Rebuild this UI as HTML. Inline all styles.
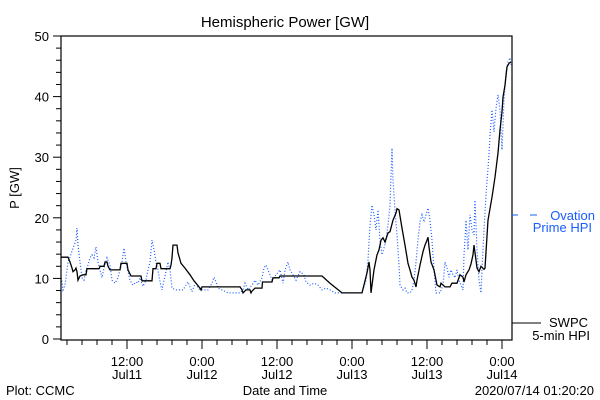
<!DOCTYPE html>
<html><head><meta charset="utf-8"><style>
body{margin:0;background:#fff;}
svg{display:block;font-family:"Liberation Sans","DejaVu Sans",sans-serif;}
</style></head><body>
<svg id="chart" width="600" height="400" viewBox="0 0 600 400" xmlns="http://www.w3.org/2000/svg">
<text x="285" y="27" font-size="15" text-anchor="middle">Hemispheric Power [GW]</text>
<text x="19" y="188" font-size="13" text-anchor="middle" transform="rotate(-90 19 188)">P [GW]</text>
<text x="285" y="395" font-size="13" text-anchor="middle">Date and Time</text>
<text x="6" y="395" font-size="13">Plot: CCMC</text>
<text x="594" y="395" font-size="13" text-anchor="end">2020/07/14 01:20:20</text>
<g id="axes"></g>
<g id="series"></g>
<rect x="61" y="36" width="451" height="304" fill="none" stroke="#000" stroke-width="1.2"/>
<g>
<line x1="512" y1="215" x2="518" y2="215" stroke="#1a5cff"/>
<line x1="530" y1="215" x2="537" y2="215" stroke="#1a5cff"/>
<text x="595" y="220" font-size="13" fill="#1a5cff" text-anchor="end">Ovation</text>
<text x="592" y="232" font-size="13" fill="#1a5cff" text-anchor="end">Prime HPI</text>
<line x1="512" y1="323" x2="541" y2="323" stroke="#000"/>
<text x="588" y="327" font-size="13" text-anchor="end">SWPC</text>
<text x="590" y="340" font-size="13" text-anchor="end">5-min HPI</text>
</g>
</svg>
<script>
const yTicks=[0,10,20,30,40,50];
const xTickHours=[12,24,36,48,60,72];
const xTickTop=["12:00","0:00","12:00","0:00","12:00","0:00"];
const xTickBottom=["Jul11","Jul12","Jul12","Jul13","Jul13","Jul14"];
const swpcHours=[1.44,2.56,2.88,3.2,3.36,3.68,3.84,4.0,4.16,4.48,4.96,5.44,5.6,7.52,7.68,8.32,8.48,8.8,8.96,9.28,10.88,11.04,12.0,12.16,12.64,14.24,14.4,16.0,16.16,16.64,16.8,17.28,17.44,18.88,19.04,19.2,19.36,20.0,20.16,20.64,21.28,22.08,22.72,23.68,23.84,24.0,30.08,30.4,30.56,31.04,31.68,31.84,32.0,32.48,33.6,33.68,35.2,35.36,36.32,36.48,43.2,44.48,46.4,49.6,50.4,50.72,50.88,51.04,51.52,52.0,52.32,52.64,52.96,53.28,53.76,54.08,54.56,55.04,55.2,55.52,56.0,56.48,56.96,57.28,57.6,57.92,58.24,58.4,58.88,59.36,59.68,60.0,60.16,60.32,60.64,61.12,61.6,62.08,62.24,62.88,63.68,64.0,64.8,65.28,65.76,65.92,66.24,66.72,67.04,67.36,67.52,67.84,68.0,68.32,68.64,69.12,69.28,69.76,70.4,70.88,71.36,71.68,72.0,72.16,72.48,72.8,73.12,73.44];
const swpcValues=[13.5,13.5,12.7,11.7,11.1,11.4,11.7,11.1,9.7,10.4,10.6,10.6,11.6,11.6,12.0,12.0,12.7,12.7,12.0,11.4,11.4,12.5,12.5,11.4,10.4,10.4,9.6,9.6,11.6,11.6,12.5,12.5,11.6,11.6,12.2,13.4,15.5,15.5,14.2,12.5,11.7,10.6,9.6,8.4,8.1,8.6,8.6,8.1,7.6,8.1,8.1,7.6,7.9,8.4,8.4,9.4,9.4,10.1,10.1,10.4,10.4,9.2,7.6,7.6,10.9,12.7,11.4,7.6,11.4,13.9,14.7,16.3,16.7,16.0,17.5,17.7,19.6,20.8,21.5,21.3,18.3,15.5,12.5,11.4,10.2,9.7,8.6,9.7,12.2,14.4,15.5,16.3,16.8,15.2,12.7,11.4,8.9,8.6,9.2,8.6,8.6,9.2,9.2,10.6,10.2,9.4,10.6,11.4,12.4,13.9,15.5,13.0,11.7,11.1,12.0,11.5,11.7,19.6,23.4,26.7,30.7,34.5,37.5,39.9,41.9,44.9,45.5,45.7];
const ovationHours=[1.44,1.76,2.08,2.4,2.56,2.88,3.36,3.84,4.0,4.16,4.48,4.8,5.12,5.44,5.76,6.08,6.4,6.72,7.04,7.36,7.68,8.0,8.32,8.8,9.28,9.6,10.08,10.56,10.88,11.2,11.52,11.84,12.16,12.48,12.96,13.44,13.76,14.08,14.56,15.04,15.36,15.68,16.0,16.32,16.64,16.96,17.28,17.6,17.92,18.24,18.56,18.88,19.2,19.84,20.96,21.44,21.76,22.08,22.4,22.72,23.04,23.36,23.68,24.96,25.6,25.92,26.24,26.56,27.2,28.16,30.08,30.56,30.88,31.36,32.0,32.48,32.96,33.6,33.92,34.24,34.56,34.88,35.2,35.84,36.48,36.96,37.28,37.76,38.08,38.56,39.04,39.68,40.32,40.64,41.28,41.92,42.56,43.2,43.84,44.48,45.28,49.6,50.24,50.56,50.88,51.2,51.52,51.84,52.16,52.48,52.8,53.12,53.44,53.76,54.08,54.4,54.56,54.88,55.2,55.52,55.68,56.16,56.48,56.8,57.28,57.6,57.92,58.24,58.56,58.88,59.2,59.52,59.84,60.16,60.48,60.8,61.12,61.44,62.08,62.56,62.88,63.2,63.52,63.84,64.16,64.48,64.8,65.12,65.44,65.76,65.92,66.08,66.24,66.56,66.88,67.2,67.52,67.68,68.0,68.32,68.64,68.8,69.12,69.44,69.76,69.92,70.08,70.4,70.72,71.04,71.36,71.68,72.0,72.32,72.64,72.96,73.28,73.44];
const ovationValues=[10.6,8.1,8.9,11.4,12.7,13.5,15.0,16.3,18.3,15.5,12.7,10.1,9.7,11.4,12.2,13.4,13.9,13.4,15.2,12.7,11.4,10.1,11.7,13.4,12.2,9.7,9.2,10.1,11.4,12.7,15.0,12.7,11.1,9.7,8.9,9.4,9.2,10.1,8.7,9.7,11.4,12.7,16.3,14.7,12.7,11.4,9.4,8.1,9.7,11.1,12.7,11.4,8.4,8.1,8.1,8.9,9.4,8.6,7.8,8.7,9.4,8.4,8.1,8.1,9.2,10.2,9.4,8.4,8.1,7.6,7.6,8.1,9.2,8.1,8.9,9.7,8.9,10.1,11.7,12.2,11.4,10.6,9.7,10.6,11.4,9.2,11.4,12.7,11.4,10.6,9.7,11.1,10.6,9.4,8.9,9.2,8.9,8.1,8.4,8.1,7.6,7.6,9.7,13.0,18.8,22.1,20.5,18.0,21.3,16.3,13.9,15.0,16.3,18.8,22.1,31.5,26.2,21.3,17.2,12.2,8.9,8.1,8.4,7.6,7.6,8.1,9.7,12.7,16.3,19.3,20.5,19.3,20.5,21.6,19.6,16.3,11.4,7.6,7.6,8.9,12.7,11.7,10.2,11.4,10.6,10.1,11.4,9.7,8.9,8.1,13.9,16.3,19.6,14.7,20.5,18.0,17.2,22.9,14.7,9.7,7.6,11.4,18.0,23.8,28.2,30.4,33.7,37.8,34.2,38.1,40.3,37.8,31.2,39.4,44.1,45.7,46.4,45.2];

const NS='http://www.w3.org/2000/svg';
const X0=61,X1=512,Y0=340,Y1=36;
function xScale(h){return 52+h*6.25;}
function yScale(v){return 339-v*(303/50);}
function mk(tag,attrs,parent){const e=document.createElementNS(NS,tag);for(const k in attrs)e.setAttribute(k,attrs[k]);parent.appendChild(e);return e;}
const axes=document.getElementById('axes');
for(let v=0;v<=50;v+=2){
  const y=yScale(v);const major=v%10===0;
  const t=mk('line',{x1:X0-(major?8:5),x2:X0,y1:y,y2:y,stroke:'#000'},axes);
  
  
}
yTicks.forEach(v=>{
  const t=mk('text',{x:X0-12,y:yScale(v)+5,'font-size':13,'text-anchor':'end'},axes);
  t.textContent=v;
  
  
});
for(let h=0;h<=74;h+=2.4){
  const x=xScale(h);if(x<X0+1||x>X1)continue;
  const t=mk('line',{x1:x,x2:x,y1:Y0,y2:Y0+5,stroke:'#000'},axes);
  
  
}
xTickHours.forEach((h,i)=>{
  const x=xScale(h);
  const t=mk('line',{x1:x,x2:x,y1:Y0,y2:Y0+9,stroke:'#000'},axes);
  
  
  const a=mk('text',{x:x,y:366,'font-size':13,'text-anchor':'middle'},axes);a.textContent=xTickTop[i];
  
  
  const b=mk('text',{x:x,y:379,'font-size':13,'text-anchor':'middle'},axes);b.textContent=xTickBottom[i];
  
  
});
const series=document.getElementById('series');
function path(hs,vs){return hs.map((h,i)=>(i?'L':'M')+xScale(h).toFixed(1)+' '+yScale(vs[i]).toFixed(1)).join(' ');}
const ov=mk('path',{d:path(ovationHours,ovationValues),fill:'none',stroke:'#1a5cff','stroke-width':1.2,'stroke-dasharray':'1 2'},series);


const sw=mk('path',{d:path(swpcHours,swpcValues),fill:'none',stroke:'#000','stroke-width':1.3},series);


</script>
</body></html>
